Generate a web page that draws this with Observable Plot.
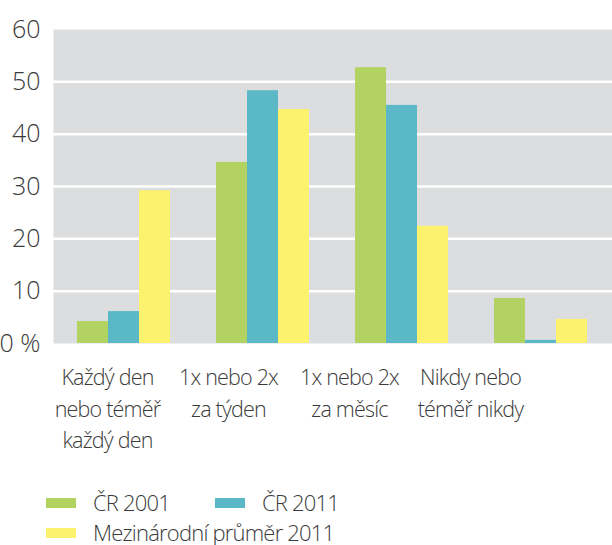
<!DOCTYPE html>
<html>
<head>
<meta charset="utf-8">
<script src="https://cdn.jsdelivr.net/npm/d3@7"></script>
<script src="https://cdn.jsdelivr.net/npm/@observablehq/plot@0.6"></script>
<style>
  html, body { margin: 0; padding: 0; background: #fff; }
  body { width: 612px; height: 545px; position: relative; overflow: hidden;
         font-family: "Open Sans", sans-serif; font-stretch: 89%; font-weight: 300; color: #3a3a3a; }
  .layer { position: absolute; left: 0; top: 0; }
  #labels { position: absolute; left: 0; top: 343px; }
  #back svg, #main svg, #labels svg { font-family: "Open Sans", sans-serif; font-stretch: 89%; font-weight: 300; }
  #labels svg text { letter-spacing: -0.8px; }
  #legend { position: absolute; left: 46px; top: 490px; display: grid;
            grid-template-columns: 169px 220px; row-gap: 5px; font-size: 22px; letter-spacing: -0.8px; line-height: 25px; }
  .item { display: flex; align-items: center; white-space: nowrap; }
  .sw { width: 30px; height: 10px; margin-right: 17px; flex: none; }
</style>
</head>
<body>
<div id="back" class="layer"></div>
<div id="main" class="layer"></div>
<div id="labels"></div>
<div id="legend"></div>
<script>
const categories = ["Každý den\nnebo téměř\nkaždý den", "1x nebo 2x\nza týden", "1x nebo 2x\nza měsíc", "Nikdy nebo\ntéměř nikdy"];
const series = ["ČR 2001", "ČR 2011", "Mezinárodní průměr 2011"];
const cr2001 = [4.2, 34.6, 52.7, 8.6];
const cr2011 = [6.1, 48.3, 45.5, 0.6];
const intl2011 = [29.2, 44.7, 22.4, 4.6];
const colors = ["#b2d362", "#5bb9c7", "#fdf26d"];
const yTicks = [0, 10, 20, 30, 40, 50, 60];
const gridTicks = [10, 20, 30, 40, 50];

const values = [cr2001, cr2011, intl2011];
const data = [];
categories.forEach((c, i) => series.forEach((s, j) => data.push({cat: c, series: s, value: values[j][i]})));

const frameOpts = {width: 612, height: 360, marginTop: 29, marginBottom: 17, marginLeft: 53, marginRight: 0};

// background layer: plot area, grid, y axis
const back = Plot.plot({
  ...frameOpts,
  style: {background: "transparent"},
  y: {domain: [0, 60], axis: null},
  marks: [
    Plot.frame({fill: "#dcdddf", stroke: null}),
    Plot.gridY(gridTicks, {stroke: "#fff", strokeOpacity: 1, strokeWidth: 2.5}),
    Plot.axisY(yTicks, {tickSize: 0, tickPadding: 13, fontSize: 25, fill: "#3a3a3a",
      tickFormat: d => d === 0 ? "0 %" : String(d)})
  ]
});
document.getElementById("back").appendChild(back);

// bars layer
const main = Plot.plot({
  ...frameOpts,
  style: {background: "transparent"},
  fx: {domain: categories, paddingInner: 0.33, paddingOuter: 0.165, axis: null},
  x: {domain: series, padding: 0, axis: null},
  y: {domain: [0, 60], axis: null},
  color: {domain: series, range: colors},
  marks: [
    Plot.barY(data, {fx: "cat", x: "series", y: "value", fill: "series"})
  ]
});
document.getElementById("main").appendChild(main);

const labels = Plot.plot({
  width: 612, height: 130,
  marginTop: 19, marginBottom: 0, marginLeft: 45, marginRight: 81,
  style: {background: "transparent"},
  x: {type: "point", domain: categories, padding: 0.5, axis: null},
  marks: [
    Plot.text(categories, {x: d => d, frameAnchor: "top", lineAnchor: "top", lineHeight: 1.47,
      fontSize: 21.5, fill: "#3a3a3a"})
  ]
});
document.getElementById("labels").appendChild(labels);

const legend = document.getElementById("legend");
series.forEach((s, i) => {
  const item = document.createElement("div");
  item.className = "item";
  const sw = document.createElement("span");
  sw.className = "sw";
  sw.style.background = colors[i];
  const t = document.createElement("span");
  t.textContent = s;
  item.appendChild(sw);
  item.appendChild(t);
  legend.appendChild(item);
});
</script>
</body>
</html>
